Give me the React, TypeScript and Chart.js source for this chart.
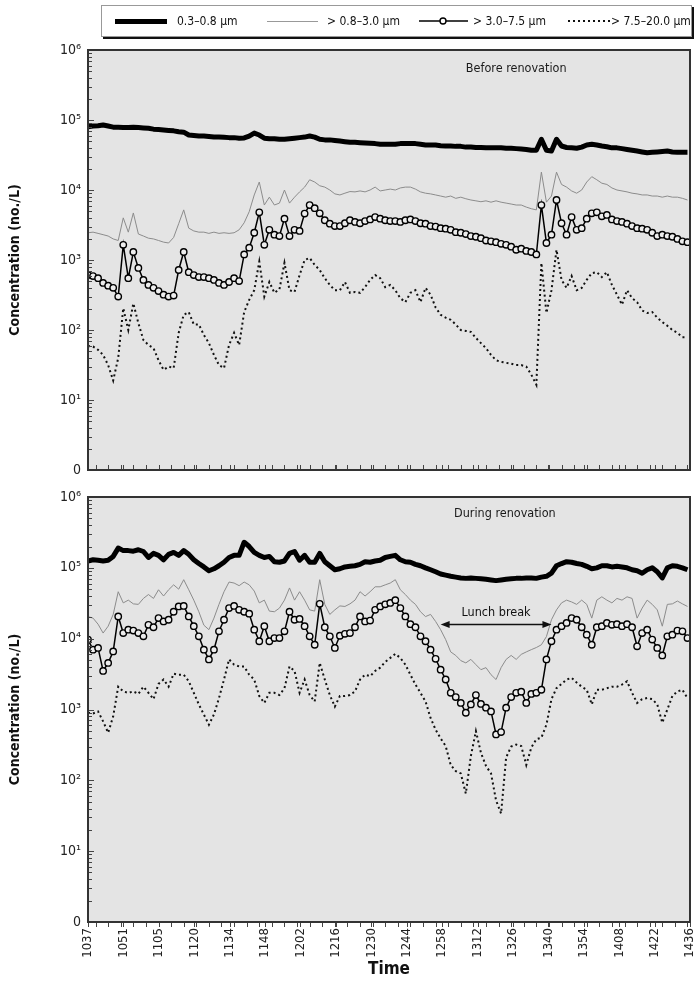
import React, { useEffect, useRef } from "react";
import { Chart, registerables } from "chart.js";

Chart.register(...registerables);

const NARROW = "'Liberation Sans Narrow', 'DejaVu Sans Condensed', 'Arial Narrow', sans-serif";

// ---- time axis (minutes after midnight) ----
const TIME_START = 637; // 10:37
const TIME_END = 876; // 14:36
const SAMPLE_STEP = 2; // minutes between readings
const TIME_TICK_LABELS = [
  "1037", "1051", "1105", "1120", "1134", "1148", "1202", "1216", "1230",
  "1244", "1258", "1312", "1326", "1340", "1354", "1408", "1422", "1436",
];
const Y_TICK_VALUES = [1, 10, 100, 1000, 10000, 100000, 1000000];
const Y_TICK_LABELS = ["0", "10¹", "10²", "10³", "10⁴", "10⁵", "10⁶"];
const SIZE_LABELS = ["0.3–0.8 μm", "> 0.8–3.0 μm", "> 3.0–7.5 μm", "> 7.5–20.0 μm"];
const PANEL_TITLES = ["Before renovation", "During renovation"];
const LUNCH_LABEL = "Lunch break";
const LUNCH_START = 777; // 12:57
const LUNCH_END = 821; // 13:41

// ---- Before renovation (no./L) ----
const BEFORE_03_08 = [
  8.0e4, 8.2e4, 8.3e4, 8.5e4, 8.2e4, 7.9e4, 7.85e4, 7.8e4, 7.8e4, 7.9e4,
  7.8e4, 7.7e4, 7.6e4, 7.4e4, 7.3e4, 7.2e4, 7.1e4, 7.0e4, 6.8e4, 6.7e4,
  6.1e4, 6.0e4, 5.9e4, 5.9e4, 5.8e4, 5.7e4, 5.7e4, 5.65e4, 5.6e4, 5.6e4,
  5.5e4, 5.55e4, 5.9e4, 6.5e4, 6.1e4, 5.5e4, 5.4e4, 5.4e4, 5.3e4, 5.3e4,
  5.4e4, 5.5e4, 5.6e4, 5.7e4, 5.9e4, 5.7e4, 5.3e4, 5.2e4, 5.2e4, 5.1e4,
  5.0e4, 4.9e4, 4.8e4, 4.8e4, 4.75e4, 4.7e4, 4.65e4, 4.6e4, 4.5e4, 4.5e4,
  4.5e4, 4.5e4, 4.6e4, 4.6e4, 4.6e4, 4.6e4, 4.5e4, 4.4e4, 4.4e4, 4.4e4,
  4.3e4, 4.25e4, 4.25e4, 4.2e4, 4.2e4, 4.1e4, 4.1e4, 4.05e4, 4.05e4, 4.0e4,
  4.0e4, 4.0e4, 4.0e4, 3.95e4, 3.95e4, 3.9e4, 3.85e4, 3.8e4, 3.7e4, 3.7e4,
  5.3e4, 3.7e4, 3.6e4, 5.3e4, 4.25e4, 4.05e4, 4.0e4, 3.95e4, 4.1e4, 4.4e4,
  4.5e4, 4.4e4, 4.25e4, 4.15e4, 4.0e4, 4.0e4, 3.9e4, 3.8e4, 3.7e4, 3.6e4,
  3.5e4, 3.4e4, 3.45e4, 3.5e4, 3.55e4, 3.6e4, 3.5e4, 3.45e4, 3.45e4, 3.45e4,
];
const BEFORE_08_30 = [
  2.45e3, 2.5e3, 2.4e3, 2.3e3, 2.2e3, 2.0e3, 1.9e3, 4.0e3, 2.5e3, 4.7e3,
  2.35e3, 2.2e3, 2.05e3, 2.0e3, 1.9e3, 1.8e3, 1.75e3, 2.1e3, 3.3e3, 5.2e3,
  2.85e3, 2.6e3, 2.5e3, 2.5e3, 2.4e3, 2.5e3, 2.4e3, 2.45e3, 2.4e3, 2.45e3,
  2.7e3, 3.4e3, 4.9e3, 8.5e3, 1.3e4, 6.1e3, 7.9e3, 6.1e3, 6.5e3, 1.0e4,
  6.5e3, 7.9e3, 9.4e3, 1.1e4, 1.4e4, 1.3e4, 1.15e4, 1.1e4, 1.0e4, 8.8e3,
  8.5e3, 9.0e3, 9.5e3, 9.4e3, 9.7e3, 9.4e3, 1.0e4, 1.1e4, 9.7e3, 1.0e4,
  1.03e4, 1.0e4, 1.07e4, 1.1e4, 1.1e4, 1.03e4, 9.4e3, 9.0e3, 8.8e3, 8.5e3,
  8.2e3, 7.9e3, 8.2e3, 7.6e3, 7.9e3, 7.5e3, 7.2e3, 7.0e3, 6.8e3, 7.0e3,
  6.7e3, 7.0e3, 6.7e3, 6.5e3, 6.3e3, 6.1e3, 6.1e3, 5.7e3, 5.4e3, 5.2e3,
  1.8e4, 6.7e3, 8.2e3, 1.8e4, 1.2e4, 1.1e4, 9.7e3, 9.0e3, 1.0e4, 1.3e4,
  1.55e4, 1.4e4, 1.25e4, 1.2e4, 1.07e4, 1.0e4, 9.7e3, 9.4e3, 9.0e3, 8.8e3,
  8.5e3, 8.5e3, 8.2e3, 8.2e3, 7.9e3, 8.2e3, 7.9e3, 7.9e3, 7.6e3, 7.2e3,
];
const BEFORE_30_75 = [
  6.1e2, 5.9e2, 5.5e2, 4.7e2, 4.3e2, 4.0e2, 3.0e2, 1.65e3, 5.5e2, 1.3e3,
  7.7e2, 5.2e2, 4.4e2, 4.0e2, 3.6e2, 3.2e2, 3.0e2, 3.1e2, 7.2e2, 1.3e3,
  6.7e2, 6.1e2, 5.7e2, 5.7e2, 5.5e2, 5.2e2, 4.7e2, 4.4e2, 4.85e2, 5.5e2,
  5.0e2, 1.2e3, 1.5e3, 2.45e3, 4.8e3, 1.65e3, 2.7e3, 2.3e3, 2.2e3, 3.9e3,
  2.2e3, 2.7e3, 2.6e3, 4.6e3, 6.1e3, 5.5e3, 4.65e3, 3.7e3, 3.3e3, 3.05e3,
  3.05e3, 3.35e3, 3.7e3, 3.5e3, 3.35e3, 3.6e3, 3.8e3, 4.1e3, 3.9e3, 3.7e3,
  3.6e3, 3.6e3, 3.5e3, 3.7e3, 3.8e3, 3.6e3, 3.35e3, 3.3e3, 3.05e3, 3.0e3,
  2.85e3, 2.8e3, 2.7e3, 2.5e3, 2.45e3, 2.35e3, 2.2e3, 2.15e3, 2.05e3, 1.9e3,
  1.85e3, 1.8e3, 1.7e3, 1.65e3, 1.55e3, 1.4e3, 1.45e3, 1.35e3, 1.3e3, 1.2e3,
  6.1e3, 1.75e3, 2.3e3, 7.2e3, 3.35e3, 2.3e3, 4.1e3, 2.7e3, 2.85e3, 3.9e3,
  4.65e3, 4.8e3, 4.2e3, 4.4e3, 3.8e3, 3.6e3, 3.5e3, 3.3e3, 3.05e3, 2.85e3,
  2.8e3, 2.7e3, 2.45e3, 2.2e3, 2.3e3, 2.2e3, 2.15e3, 2.0e3, 1.85e3, 1.8e3,
];
const BEFORE_75_200 = [
  5.9e1, 5.8e1, 5.2e1, 4.4e1, 3.15e1, 1.9e1, 4.0e1, 2.05e2, 1.0e2, 2.4e2,
  1.25e2, 7.2e1, 6.1e1, 5.5e1, 3.7e1, 2.7e1, 3.0e1, 2.85e1, 9.1e1, 1.65e2,
  1.8e2, 1.2e2, 1.2e2, 8.5e1, 6.5e1, 4.4e1, 3.15e1, 2.85e1, 6.1e1, 9.1e1,
  6.1e1, 1.8e2, 2.7e2, 3.7e2, 9.5e2, 3.0e2, 4.85e2, 3.4e2, 3.8e2, 9.1e2,
  3.7e2, 3.5e2, 6.1e2, 1.0e3, 1.07e3, 8.5e2, 7.2e2, 5.5e2, 4.4e2, 3.7e2,
  3.7e2, 4.85e2, 3.4e2, 3.5e2, 3.4e2, 4.1e2, 5.2e2, 6.1e2, 5.5e2, 4.1e2,
  4.4e2, 3.7e2, 2.85e2, 2.5e2, 3.4e2, 3.7e2, 2.5e2, 4.0e2, 3.2e2, 2.1e2,
  1.65e2, 1.5e2, 1.4e2, 1.2e2, 1.0e2, 9.7e1, 9.4e1, 7.7e1, 6.5e1, 5.5e1,
  4.4e1, 3.7e1, 3.5e1, 3.4e1, 3.3e1, 3.15e1, 3.15e1, 3.0e1, 2.3e1, 1.65e1,
  9.1e2, 1.75e2, 3.7e2, 1.4e3, 5.2e2, 4.0e2, 5.9e2, 3.7e2, 4.0e2, 5.2e2,
  6.5e2, 6.7e2, 5.7e2, 6.7e2, 4.4e2, 3.2e2, 2.3e2, 3.7e2, 2.85e2, 2.5e2,
  1.9e2, 1.75e2, 1.8e2, 1.5e2, 1.3e2, 1.15e2, 1.0e2, 9.1e1, 7.9e1, 7.9e1,
];

// ---- During renovation (no./L) ----
const DURING_03_08 = [
  1.25e5, 1.3e5, 1.28e5, 1.25e5, 1.28e5, 1.45e5, 1.9e5, 1.75e5, 1.75e5, 1.72e5,
  1.8e5, 1.7e5, 1.4e5, 1.6e5, 1.5e5, 1.3e5, 1.55e5, 1.65e5, 1.5e5, 1.75e5,
  1.55e5, 1.3e5, 1.15e5, 1.03e5, 9.1e4, 9.7e4, 1.07e5, 1.2e5, 1.4e5, 1.5e5,
  1.5e5, 2.3e5, 2.0e5, 1.65e5, 1.5e5, 1.4e5, 1.45e5, 1.22e5, 1.2e5, 1.25e5,
  1.6e5, 1.7e5, 1.28e5, 1.5e5, 1.2e5, 1.2e5, 1.6e5, 1.22e5, 1.07e5, 9.4e4,
  9.7e4, 1.03e5, 1.05e5, 1.07e5, 1.12e5, 1.22e5, 1.2e5, 1.25e5, 1.28e5, 1.4e5,
  1.45e5, 1.5e5, 1.3e5, 1.22e5, 1.2e5, 1.12e5, 1.07e5, 1.0e5, 9.4e4, 8.8e4,
  8.2e4, 7.9e4, 7.6e4, 7.4e4, 7.2e4, 7.1e4, 7.2e4, 7.1e4, 7.0e4, 6.9e4,
  6.75e4, 6.6e4, 6.75e4, 6.9e4, 7.0e4, 7.1e4, 7.1e4, 7.2e4, 7.2e4, 7.1e4,
  7.4e4, 7.6e4, 8.4e4, 1.07e5, 1.15e5, 1.22e5, 1.2e5, 1.15e5, 1.12e5, 1.05e5,
  9.7e4, 1.0e5, 1.07e5, 1.07e5, 1.03e5, 1.05e5, 1.03e5, 1.0e5, 9.4e4, 9.1e4,
  8.4e4, 9.4e4, 1.0e5, 8.8e4, 7.2e4, 1.0e5, 1.07e5, 1.05e5, 1.0e5, 9.4e4,
];
const DURING_08_30 = [
  2.05e4, 1.95e4, 1.6e4, 1.2e4, 1.5e4, 2.2e4, 4.6e4, 3.2e4, 3.5e4, 3.1e4,
  3.05e4, 3.7e4, 4.2e4, 3.7e4, 4.9e4, 4.0e4, 4.9e4, 5.75e4, 5.0e4, 6.8e4,
  4.9e4, 3.5e4, 2.4e4, 1.55e4, 1.34e4, 1.95e4, 3.05e4, 4.6e4, 6.3e4, 6.1e4,
  5.6e4, 6.3e4, 5.75e4, 4.7e4, 3.2e4, 3.5e4, 2.45e4, 2.4e4, 2.7e4, 3.5e4,
  5.2e4, 3.5e4, 4.6e4, 3.5e4, 2.55e4, 2.45e4, 6.8e4, 3.05e4, 2.2e4, 2.55e4,
  2.9e4, 2.85e4, 3.1e4, 3.5e4, 4.6e4, 4.0e4, 4.6e4, 5.4e4, 5.4e4, 5.75e4,
  6.1e4, 6.8e4, 4.9e4, 4.2e4, 3.5e4, 3.05e4, 2.4e4, 2.05e4, 2.2e4, 1.75e4,
  1.34e4, 9.7e3, 6.5e3, 5.8e3, 4.9e3, 4.55e3, 5.1e3, 4.3e3, 3.65e3, 3.9e3,
  3.1e3, 2.65e3, 3.9e3, 5.1e3, 5.8e3, 5.1e3, 6.0e3, 6.5e3, 7.0e3, 7.5e3,
  8.2e3, 1.07e4, 1.85e4, 2.55e4, 3.2e4, 3.5e4, 3.3e4, 3.05e4, 3.5e4, 3.05e4,
  1.95e4, 3.5e4, 3.9e4, 3.5e4, 3.2e4, 3.7e4, 3.5e4, 3.9e4, 3.7e4, 1.95e4,
  2.7e4, 3.5e4, 3.05e4, 2.55e4, 1.5e4, 3.05e4, 3.1e4, 3.4e4, 3.1e4, 2.85e4,
];
const DURING_30_75 = [
  9.7e3, 7.0e3, 7.4e3, 3.5e3, 4.55e3, 6.6e3, 2.06e4, 1.2e4, 1.34e4, 1.3e4,
  1.2e4, 1.08e4, 1.57e4, 1.45e4, 1.95e4, 1.75e4, 1.85e4, 2.4e4, 2.85e4, 2.9e4,
  2.06e4, 1.5e4, 1.08e4, 7.0e3, 5.1e3, 7.0e3, 1.27e4, 1.85e4, 2.7e4, 2.9e4,
  2.55e4, 2.4e4, 2.25e4, 1.34e4, 9.2e3, 1.5e4, 9.2e3, 1.02e4, 1.02e4, 1.27e4,
  2.4e4, 1.85e4, 1.9e4, 1.5e4, 1.08e4, 8.2e3, 3.1e4, 1.45e4, 1.08e4, 7.4e3,
  1.1e4, 1.17e4, 1.2e4, 1.45e4, 2.06e4, 1.75e4, 1.8e4, 2.55e4, 2.85e4, 3.05e4,
  3.2e4, 3.5e4, 2.7e4, 2.06e4, 1.6e4, 1.45e4, 1.08e4, 9.2e3, 7.0e3, 5.2e3,
  3.65e3, 2.65e3, 1.72e3, 1.5e3, 1.24e3, 9.0e2, 1.18e3, 1.6e3, 1.2e3, 1.06e3,
  9.4e2, 4.45e2, 4.8e2, 1.06e3, 1.5e3, 1.72e3, 1.78e3, 1.24e3, 1.66e3, 1.72e3,
  1.9e3, 5.1e3, 9.2e3, 1.34e4, 1.5e4, 1.67e4, 1.95e4, 1.85e4, 1.45e4, 1.14e4,
  8.2e3, 1.45e4, 1.5e4, 1.67e4, 1.57e4, 1.6e4, 1.5e4, 1.6e4, 1.45e4, 7.8e3,
  1.2e4, 1.34e4, 9.7e3, 7.4e3, 5.8e3, 1.08e4, 1.14e4, 1.3e4, 1.27e4, 1.02e4,
];
const DURING_75_200 = [
  9.0e2, 8.8e2, 9.4e2, 6.8e2, 4.7e2, 8.0e2, 2.1e3, 1.8e3, 1.72e3, 1.8e3,
  1.66e3, 2.1e3, 1.72e3, 1.4e3, 2.3e3, 2.65e3, 2.1e3, 3.2e3, 3.1e3, 3.1e3,
  2.5e3, 1.72e3, 1.18e3, 8.5e2, 6.1e2, 8.5e2, 1.45e3, 2.65e3, 5.1e3, 4.3e3,
  4.05e3, 4.05e3, 3.1e3, 2.65e3, 1.55e3, 1.24e3, 1.72e3, 1.72e3, 1.6e3, 2.0e3,
  4.05e3, 3.5e3, 1.72e3, 2.65e3, 1.6e3, 1.3e3, 4.55e3, 2.65e3, 1.6e3, 1.1e3,
  1.55e3, 1.55e3, 1.6e3, 1.8e3, 2.65e3, 3.1e3, 2.95e3, 3.5e3, 3.9e3, 4.7e3,
  5.35e3, 6.1e3, 5.35e3, 4.3e3, 3.1e3, 2.25e3, 1.72e3, 1.3e3, 7.6e2, 5.2e2,
  3.9e2, 3.05e2, 1.65e2, 1.35e2, 1.25e2, 6.5e1, 2.2e2, 4.95e2, 2.45e2, 1.6e2,
  1.25e2, 5.2e1, 3.4e1, 2.1e2, 3.0e2, 3.2e2, 3.05e2, 1.65e2, 2.9e2, 3.8e2,
  4.0e2, 6.1e2, 1.4e3, 2.0e3, 2.3e3, 2.65e3, 2.8e3, 2.4e3, 2.1e3, 1.9e3,
  1.18e3, 1.9e3, 1.9e3, 2.0e3, 2.1e3, 2.1e3, 2.25e3, 2.5e3, 1.72e3, 1.24e3,
  1.4e3, 1.45e3, 1.4e3, 1.18e3, 6.5e2, 1.0e3, 1.55e3, 1.8e3, 1.9e3, 1.45e3,
];

const toPoints = (vals: number[]) =>
  vals.map((v, i) => ({ x: TIME_START + i * SAMPLE_STEP, y: v }));

const panelDecor = {
  id: "panelDecor",
  beforeDraw(chart: any) {
    const { ctx, chartArea: a } = chart;
    ctx.save();
    ctx.fillStyle = "#e4e4e4";
    ctx.fillRect(a.left, a.top, a.right - a.left, a.bottom - a.top);
    ctx.restore();
  },
  afterDatasetsDraw(chart: any, _args: any, opts: any) {
    const { ctx, chartArea: a, scales } = chart;
    const xs = scales.x;
    const ys = scales.y;
    ctx.save();
    ctx.strokeStyle = "#444";
    ctx.lineWidth = 1;
    ctx.beginPath();
    // inward log ticks on the left edge
    for (let k = 0; k < 6; k++) {
      for (let m = 1; m <= 9; m++) {
        if (k === 0 && m === 1) continue;
        const y = Math.round(ys.getPixelForValue(m * Math.pow(10, k))) + 0.5;
        const len = m === 1 ? 6 : 4;
        ctx.moveTo(a.left, y);
        ctx.lineTo(a.left + len, y);
      }
    }
    // time ticks along the bottom
    const n = TIME_TICK_LABELS.length - 1;
    const tickTimes: number[] = [];
    for (let i = 0; i <= n; i++) tickTimes.push(TIME_START + (i * (TIME_END - TIME_START)) / n);
    for (let t = 640; t < TIME_END; t += 5) tickTimes.push(t);
    tickTimes.forEach((t) => {
      const x = Math.round(xs.getPixelForValue(t)) + 0.5;
      ctx.moveTo(x, a.bottom);
      ctx.lineTo(x, opts.outwardX ? a.bottom + 5 : a.bottom - 5);
    });
    ctx.stroke();
    // frame
    ctx.lineWidth = 2;
    ctx.strokeStyle = "#333";
    ctx.strokeRect(a.left, a.top, a.right - a.left, a.bottom - a.top);
    // panel note
    ctx.fillStyle = "#1a1a1a";
    ctx.font = `12.5px ${NARROW}`;
    ctx.textAlign = "center";
    ctx.textBaseline = "middle";
    ctx.fillText(opts.note.text, xs.getPixelForValue(opts.note.x), ys.getPixelForValue(opts.note.y));
    // lunch break arrow
    if (opts.arrow) {
      const x1 = xs.getPixelForValue(opts.arrow.from);
      const x2 = xs.getPixelForValue(opts.arrow.to);
      const y = Math.round(ys.getPixelForValue(opts.arrow.y)) + 0.5;
      ctx.strokeStyle = "#111";
      ctx.lineWidth = 1.5;
      ctx.beginPath();
      ctx.moveTo(x1 + 4, y);
      ctx.lineTo(x2 - 4, y);
      ctx.stroke();
      ctx.fillStyle = "#111";
      ctx.beginPath();
      ctx.moveTo(x1, y);
      ctx.lineTo(x1 + 9, y - 3.5);
      ctx.lineTo(x1 + 9, y + 3.5);
      ctx.closePath();
      ctx.fill();
      ctx.beginPath();
      ctx.moveTo(x2, y);
      ctx.lineTo(x2 - 9, y - 3.5);
      ctx.lineTo(x2 - 9, y + 3.5);
      ctx.closePath();
      ctx.fill();
      ctx.font = `12.5px ${NARROW}`;
      ctx.fillText(opts.arrow.text, (x1 + x2) / 2, ys.getPixelForValue(opts.arrow.textY));
    }
    ctx.restore();
  },
};

function makeDatasets(series: number[][]) {
  const [fine, mid, coarse, large] = series;
  return [
    {
      label: SIZE_LABELS[2],
      data: toPoints(coarse),
      borderColor: "#000",
      borderWidth: 1.5,
      pointRadius: 3.2,
      pointBorderWidth: 1.4,
      pointBorderColor: "#000",
      pointBackgroundColor: "#ededed",
      tension: 0,
    },
    {
      label: SIZE_LABELS[0],
      data: toPoints(fine),
      borderColor: "#000",
      borderWidth: 5,
      pointRadius: 0,
      tension: 0,
      borderJoinStyle: "round" as const,
    },
    {
      label: SIZE_LABELS[1],
      data: toPoints(mid),
      borderColor: "#8c8c8c",
      borderWidth: 1,
      pointRadius: 0,
      tension: 0,
    },
    {
      label: SIZE_LABELS[3],
      data: toPoints(large),
      borderColor: "#111",
      borderWidth: 2,
      borderDash: [2, 3],
      pointRadius: 0,
      tension: 0,
    },
  ];
}

function makeConfig(series: number[][], bottom: boolean, decor: any): any {
  const n = TIME_TICK_LABELS.length - 1;
  return {
    type: "line",
    data: { datasets: makeDatasets(series) },
    plugins: [panelDecor],
    options: {
      responsive: false,
      animation: false,
      devicePixelRatio: 1,
      layout: {
        padding: bottom
          ? { top: 17, right: 7, bottom: 0, left: 0 }
          : { top: 50, right: 7, bottom: 10, left: 0 },
      },
      plugins: {
        legend: { display: false },
        tooltip: { enabled: false },
        panelDecor: decor,
      },
      scales: {
        x: {
          type: "linear",
          display: bottom,
          min: TIME_START,
          max: TIME_END,
          afterBuildTicks: (s: any) => {
            s.ticks = TIME_TICK_LABELS.map((_l, i) => ({
              value: TIME_START + (i * (TIME_END - TIME_START)) / n,
            }));
          },
          afterFit: (s: any) => {
            s.paddingLeft = 0;
            s.paddingRight = 0;
            if (bottom) s.height = 61;
          },
          grid: { display: false, drawTicks: false },
          border: { display: false },
          ticks: {
            autoSkip: false,
            minRotation: 90,
            maxRotation: 90,
            padding: 6,
            color: "#222",
            font: { family: NARROW, size: 13 },
            callback: (_v: any, i: number) => TIME_TICK_LABELS[i],
          },
          title: {
            display: true,
            text: "Time",
            color: "#111",
            font: { family: NARROW, size: 17, weight: "bold" },
            padding: { top: 0, bottom: 3 },
          },
        },
        y: {
          type: "logarithmic",
          min: 1,
          max: 1e6,
          afterBuildTicks: (s: any) => {
            s.ticks = Y_TICK_VALUES.map((v) => ({ value: v }));
          },
          afterFit: (s: any) => {
            s.width = 88;
            s.paddingTop = 0;
            s.paddingBottom = 0;
          },
          grid: { display: false, drawTicks: false },
          border: { display: false },
          ticks: {
            padding: 7,
            color: "#222",
            font: { family: NARROW, size: 14 },
            callback: (_v: any, i: number) => Y_TICK_LABELS[i],
          },
          title: {
            display: true,
            text: "Concentration (no./L)",
            color: "#111",
            font: { family: NARROW, size: 14, weight: "bold" },
            padding: { top: 7, bottom: 0 },
          },
        },
      },
    },
  };
}

const legendText: React.CSSProperties = {
  position: "absolute",
  top: 13,
  height: 16,
  lineHeight: "16px",
  fontSize: 12,
  color: "#111",
  whiteSpace: "nowrap",
};

export default function App() {
  const topRef = useRef<HTMLCanvasElement>(null);
  const bottomRef = useRef<HTMLCanvasElement>(null);

  useEffect(() => {
    const top = new Chart(
      topRef.current as HTMLCanvasElement,
      makeConfig([BEFORE_03_08, BEFORE_08_30, BEFORE_30_75, BEFORE_75_200], false, {
        outwardX: false,
        note: { text: PANEL_TITLES[0], x: 807, y: 5.4e5 },
      })
    );
    const bottom = new Chart(
      bottomRef.current as HTMLCanvasElement,
      makeConfig([DURING_03_08, DURING_08_30, DURING_30_75, DURING_75_200], true, {
        outwardX: true,
        note: { text: PANEL_TITLES[1], x: 802.5, y: 5.8e5 },
        arrow: { text: LUNCH_LABEL, from: LUNCH_START, to: LUNCH_END, y: 1.63e4, textY: 2.35e4 },
      })
    );
    return () => {
      top.destroy();
      bottom.destroy();
    };
  }, []);

  return (
    <div
      style={{
        position: "absolute",
        left: 0,
        top: 0,
        width: 697,
        height: 983,
        background: "#fff",
        overflow: "hidden",
        fontFamily: NARROW,
      }}
    >
      <canvas ref={topRef} width={697} height={480} style={{ position: "absolute", left: 0, top: 0 }} />
      <canvas ref={bottomRef} width={697} height={503} style={{ position: "absolute", left: 0, top: 480 }} />
      <div
        style={{
          position: "absolute",
          left: 101,
          top: 5,
          width: 589,
          height: 30,
          border: "1px solid #999",
          boxShadow: "2px 2px 0 #111",
          background: "#fff",
        }}
      />
      <div style={{ position: "absolute", left: 115, top: 19, width: 52, height: 5, background: "#000" }} />
      <div style={{ ...legendText, left: 177 }}>{SIZE_LABELS[0]}</div>
      <div style={{ position: "absolute", left: 267, top: 21, width: 51, height: 1, background: "#999" }} />
      <div style={{ ...legendText, left: 327 }}>{SIZE_LABELS[1]}</div>
      <svg style={{ position: "absolute", left: 419, top: 14 }} width={49} height={14}>
        <line x1={0} y1={7} x2={49} y2={7} stroke="#000" strokeWidth={1.5} />
        <circle cx={24} cy={7} r={3} fill="#fff" stroke="#000" strokeWidth={1.4} />
      </svg>
      <div style={{ ...legendText, left: 473 }}>{SIZE_LABELS[2]}</div>
      <svg style={{ position: "absolute", left: 568, top: 14 }} width={42} height={14}>
        <line x1={0} y1={7} x2={42} y2={7} stroke="#111" strokeWidth={2} strokeDasharray="2 3" />
      </svg>
      <div style={{ ...legendText, left: 611 }}>{SIZE_LABELS[3]}</div>
    </div>
  );
}
